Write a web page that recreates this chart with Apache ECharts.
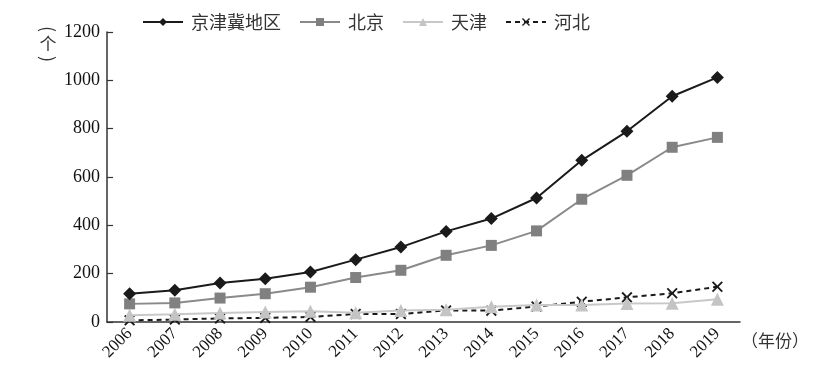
<!DOCTYPE html>
<html><head><meta charset="utf-8">
<script src="https://cdn.jsdelivr.net/npm/echarts@6/dist/echarts.min.js"></script>
<style>html,body{margin:0;padding:0;background:#fff}#c{width:814px;height:388px}</style>
</head><body><div id="c"></div>
<script>
const years = ['2006','2007','2008','2009','2010','2011','2012','2013','2014','2015','2016','2017','2018','2019'];
const jjjValues = [117, 131, 161, 179, 207, 258, 310, 375, 428, 513, 669, 789, 934, 1012];
const beijingValues = [75, 79, 99, 117, 144, 184, 214, 276, 317, 377, 508, 607, 723, 764];
const tianjinValues = [28, 32, 37, 41, 44, 38, 48, 51, 63, 70, 70, 77, 78, 94];
const hebeiValues = [7, 10, 15, 17, 21, 33, 33, 48, 47, 64, 84, 102, 119, 146];
const seriesNames = ['京津冀地区', '北京', '天津', '河北'];
const yTicks = {min: 0, max: 1200, interval: 200};

const crossPath = 'path://M0,1.2L1.2,0L5,3.8L8.8,0L10,1.2L6.2,5L10,8.8L8.8,10L5,6.2L1.2,10L0,8.8L3.8,5Z';
const serif = '"Liberation Serif", "Times New Roman", Times, serif';
const cjk = '"Noto Sans CJK SC", sans-serif';

const chart = echarts.init(document.getElementById('c'), null, {renderer: 'canvas'});
chart.setOption({
  animation: false,
  backgroundColor: '#fff',
  grid: {left: 107, right: 74, top: 32, bottom: 66},
  legend: {
    top: 8, left: 137,
    itemWidth: 40, itemHeight: 10, itemGap: 18,
    textStyle: {fontFamily: cjk, fontSize: 18, color: '#333', padding: [0, 0, 0, 3]},
    data: seriesNames
  },
  xAxis: {
    type: 'category', data: years, boundaryGap: true,
    name: '（年份）', nameLocation: 'end', nameGap: 1,
    nameTextStyle: {fontFamily: cjk, fontSize: 17, color: '#333', verticalAlign: 'top', padding: [10, 0, 0, 0]},
    axisLine: {lineStyle: {color: '#333', width: 1.5}},
    axisTick: {inside: true, length: 6, lineStyle: {color: '#333', width: 1.2}},
    axisLabel: {rotate: 45, fontFamily: serif, fontSize: 17, color: '#111', margin: 9}
  },
  yAxis: {
    type: 'value', min: yTicks.min, max: yTicks.max, interval: yTicks.interval,
    axisLine: {show: true, lineStyle: {color: '#333', width: 1.5}},
    axisTick: {show: true, inside: true, length: 6, lineStyle: {color: '#333', width: 1.2}},
    splitLine: {show: false},
    axisLabel: {fontFamily: serif, fontSize: 18, color: '#111', margin: 7, formatter: v => String(v)}
  },
  graphic: [
    {type: 'text', x: 48, y: 29, rotation: -Math.PI / 2,
     style: {text: '(', x: 0, y: 0, fontFamily: cjk, fontSize: 18, fill: '#333', align: 'center', verticalAlign: 'middle'}},
    {type: 'text', x: 48, y: 44,
     style: {text: '个', x: 0, y: 0, fontFamily: cjk, fontSize: 17, fill: '#333', align: 'center', verticalAlign: 'middle'}},
    {type: 'text', x: 48, y: 59, rotation: -Math.PI / 2,
     style: {text: ')', x: 0, y: 0, fontFamily: cjk, fontSize: 18, fill: '#333', align: 'center', verticalAlign: 'middle'}}
  ],
  series: [
    {name: seriesNames[0], type: 'line', data: jjjValues, symbol: 'diamond', symbolSize: 13,
     lineStyle: {color: '#1a1a1a', width: 2}, itemStyle: {color: '#1a1a1a'}, z: 5},
    {name: seriesNames[1], type: 'line', data: beijingValues, symbol: 'rect', symbolSize: 11,
     lineStyle: {color: '#8a8a8a', width: 2}, itemStyle: {color: '#808080'}, z: 4},
    {name: seriesNames[2], type: 'line', data: tianjinValues, symbol: 'triangle', symbolSize: 13,
     lineStyle: {color: '#c8c8c8', width: 2}, itemStyle: {color: '#c4c4c4'}, z: 3},
    {name: seriesNames[3], type: 'line', data: hebeiValues, symbol: crossPath, symbolSize: 11,
     lineStyle: {color: '#1a1a1a', width: 2, type: [5, 4]}, itemStyle: {color: '#1a1a1a'}, z: 2}
  ]
});
</script></body></html>
